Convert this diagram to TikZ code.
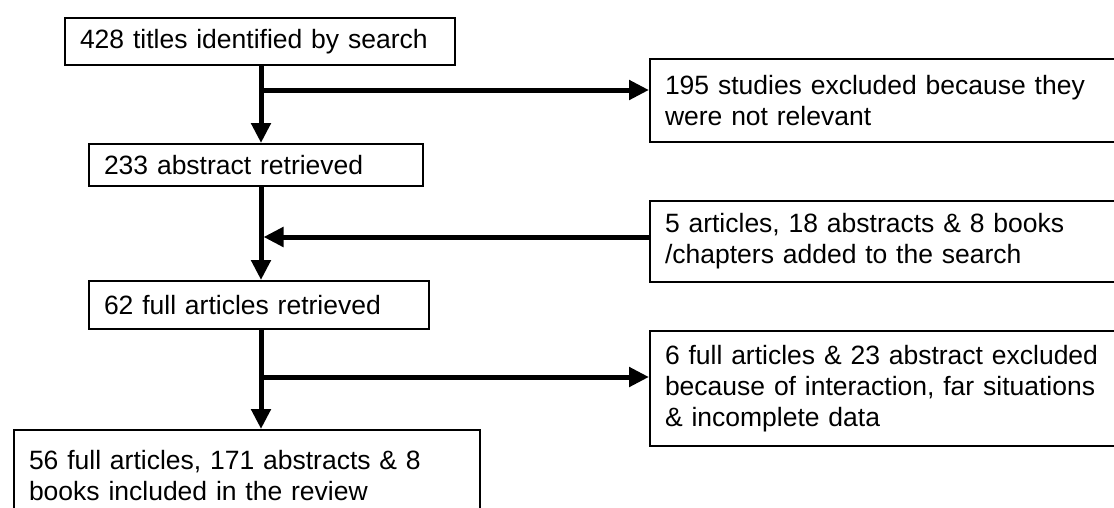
\documentclass[tikz,border=0pt]{standalone}
\usepackage{fontspec}
\setmainfont{Liberation Sans}
\usetikzlibrary{arrows.meta}
\begin{document}
\begin{tikzpicture}[x=1pt,y=-1pt,
  box/.style={draw=black, line width=2pt, anchor=north west, inner xsep=15pt,
    inner ysep=0pt, align=left, font=\fontsize{26.5}{31}\selectfont},
  flow/.style={line width=5pt, -{Triangle[width=19pt,length=20pt]}}]
\useasboundingbox (0,0) rectangle (1114,507);
\clip (0,0) rectangle (1114,507);
\fill[white] (0,0) rectangle (1114,507);

% main column
\node[box, minimum width=390pt, minimum height=47pt, text width=360pt] (titles) at (64,17)
  {428 titles identified by search};
\node[box, minimum width=334pt, minimum height=42pt, text width=304pt] (abstr) at (88,143)
  {233 abstract retrieved};
\node[box, minimum width=340pt, minimum height=48pt, text width=310pt] (full) at (88,280)
  {62 full articles retrieved};
\node[box, minimum width=466pt, minimum height=92pt, text width=436pt] (incl) at (13,429)
  {56 full articles, 171 abstracts \& 8\\books included in the review};

% side column
\node[box, minimum width=480pt, minimum height=83pt, text width=450pt] (excl1) at (649,58)
  {195 studies excluded because they\\were not relevant};
\node[box, minimum width=480pt, minimum height=81pt, text width=450pt] (added) at (649,200)
  {5 articles, 18 abstracts \& 8 books\\/chapters added to the search};
\node[box, minimum width=480pt, minimum height=115pt, text width=450pt] (excl2) at (649,330)
  {6 full articles \& 23 abstract excluded\\because of interaction, far situations\\\& incomplete data};

% spine and junctions
\coordinate (spine) at (261,0);
\coordinate (j1) at (261,90);
\coordinate (j2) at (263.5,237);
\coordinate (j3) at (261,377);

\draw[flow] (titles.south -| spine) -- (abstr.north -| spine);
\draw[flow] (abstr.south -| spine) -- (full.north -| spine);
\draw[flow] (full.south -| spine) -- (incl.north -| spine);

\draw[flow] (j1) -- (excl1.west |- j1);
\draw[flow] (added.west |- j2) -- (j2);
\draw[flow] (j3) -- (excl2.west |- j3);
\end{tikzpicture}
\end{document}
